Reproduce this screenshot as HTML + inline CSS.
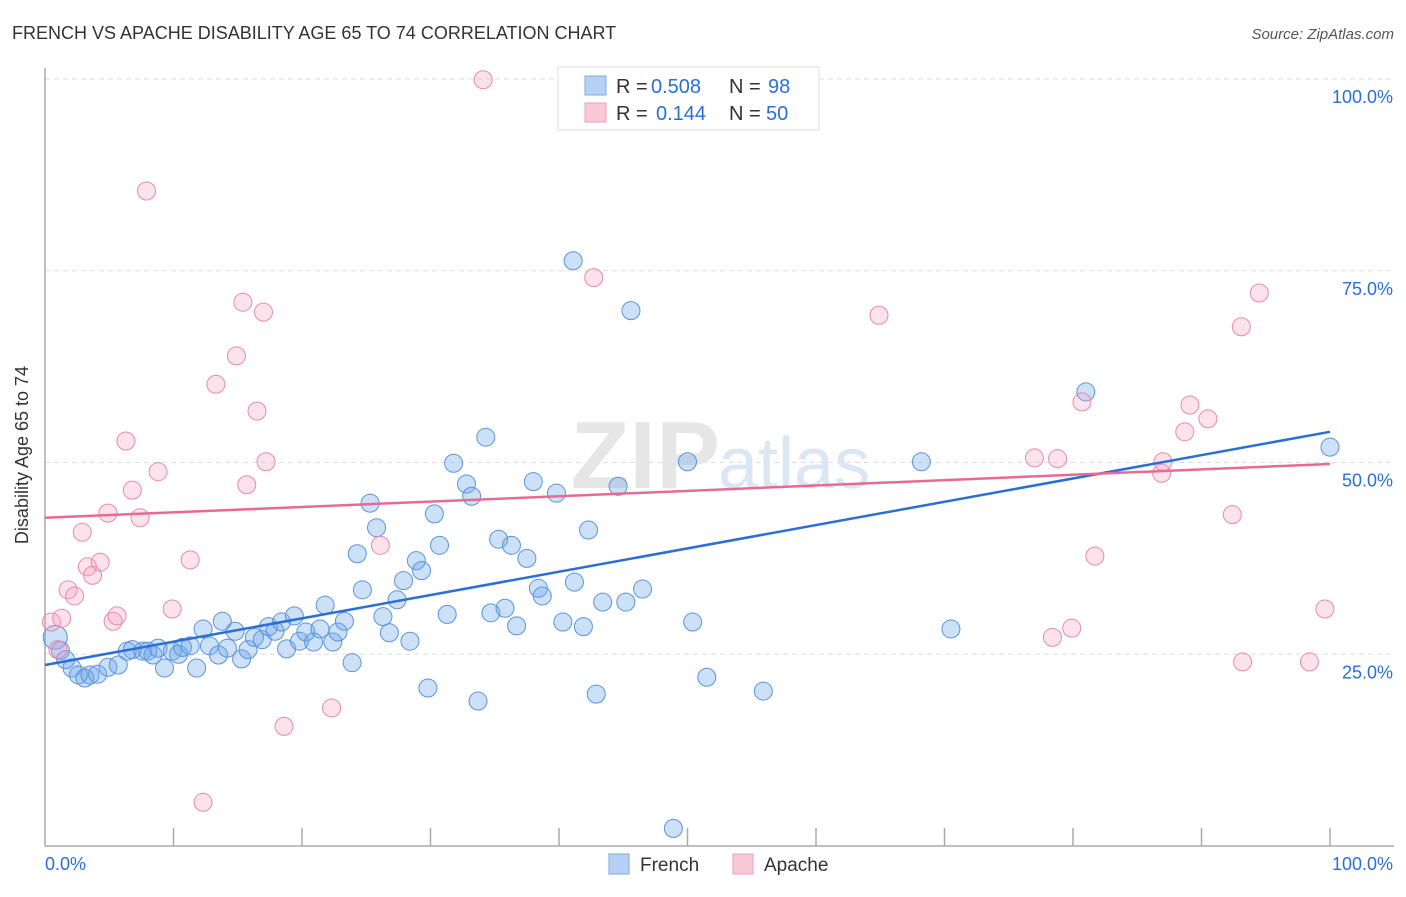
<!DOCTYPE html>
<html><head><meta charset="utf-8"><style>
body{margin:0;background:#fff;font-family:"Liberation Sans",sans-serif}
svg text{font-family:"Liberation Sans",sans-serif}
</style></head><body>
<svg id="chart" width="1406" height="892" xmlns="http://www.w3.org/2000/svg">
<text x="12" y="39" font-size="18" fill="#333">FRENCH VS APACHE DISABILITY AGE 65 TO 74 CORRELATION CHART</text>
<text x="1394" y="39" font-size="15" fill="#555" text-anchor="end" font-style="italic">Source: ZipAtlas.com</text>
<g id="grid"></g>
<text x="720" y="488" font-size="96" fill="#e6e6e6" text-anchor="end" font-family="Liberation Serif" font-weight="bold">ZIP</text>
<text x="718" y="488" font-size="72" fill="#dbe6f5">atlas</text>
<g id="axes"></g>
<g id="pts"></g>
<g id="lines"></g>
<text x="28" y="455" font-size="18" fill="#333" text-anchor="middle" transform="rotate(-90 28 455)">Disability Age 65 to 74</text>
<g>
<rect x="558" y="67" width="261" height="63" fill="#fff" stroke="#ddd"/>
<rect x="585" y="76" width="21" height="19" fill="#b6d1f3" stroke="#7fa9e0"/>
<rect x="585" y="103" width="21" height="19" fill="#f9c8d7" stroke="#eba0b8"/>
<text x="616" y="93" font-size="20" fill="#333">R =</text>
<text x="651" y="93" font-size="20" fill="#2a6fd6">0.508</text>
<text x="729" y="93" font-size="20" fill="#333">N =</text>
<text x="768" y="93" font-size="20" fill="#2a6fd6">98</text>
<text x="616" y="120" font-size="20" fill="#333">R =</text>
<text x="656" y="120" font-size="20" fill="#2a6fd6">0.144</text>
<text x="729" y="120" font-size="20" fill="#333">N =</text>
<text x="766" y="120" font-size="20" fill="#2a6fd6">50</text>
</g>
<g>
<rect x="609" y="854" width="20" height="20" fill="#b6d1f3" stroke="#7fa9e0"/>
<text x="640" y="871" font-size="19" fill="#333">French</text>
<rect x="733" y="854" width="20" height="20" fill="#f9c8d7" stroke="#eba0b8"/>
<text x="764" y="871" font-size="19" fill="#333">Apache</text>
</g>
</svg>
<script>
const yTicks=[25,50,75,100];
const yTickLabels=["25.0%","50.0%","75.0%","100.0%"];
const xTicks=[10,20,30,40,50,60,70,80,90,100];
const frenchX=[0.8,1.2,1.6,2.1,2.6,3.1,3.5,4.1,4.9,5.7,6.4,6.8,7.6,8.0,8.4,8.8,9.3,9.9,10.4,10.7,11.3,11.8,12.3,12.8,13.5,13.8,14.2,14.8,15.3,15.8,16.3,16.9,17.4,17.9,18.4,18.8,19.4,19.8,20.3,20.9,21.4,21.8,22.4,22.8,23.3,23.9,24.3,24.7,25.3,25.8,26.3,26.8,27.4,27.9,28.4,28.9,29.3,29.8,30.3,30.7,31.3,31.8,32.8,33.2,33.7,34.3,34.7,35.3,35.8,36.3,36.7,37.5,38.0,38.4,38.7,39.8,40.3,41.1,41.2,41.9,42.3,42.9,43.4,44.6,45.2,45.6,46.5,48.9,50.0,50.4,51.5,55.9,68.2,70.5,81.0,100];
const frenchY=[27.2,25.5,24.3,23.2,22.3,21.9,22.3,22.4,23.3,23.6,25.4,25.6,25.4,25.4,24.9,25.8,23.2,25.4,25.0,25.9,26.1,23.2,28.3,26.1,24.9,29.3,25.8,28.0,24.4,25.6,27.2,26.9,28.6,28.0,29.2,25.7,30.0,26.7,27.9,26.6,28.3,31.4,26.6,27.9,29.3,23.9,38.1,33.4,44.7,41.5,29.9,27.8,32.1,34.6,26.7,37.2,35.9,20.6,43.3,39.2,30.2,49.9,47.2,45.6,18.9,53.3,30.4,40.0,31.0,39.2,28.7,37.5,47.5,33.6,32.6,46.0,29.2,76.3,34.4,28.6,41.2,19.8,31.8,46.9,31.8,69.8,33.5,2.3,50.1,29.2,22.0,20.2,50.1,28.3,59.2,52.0];
const apacheX=[0.5,1.0,1.3,1.8,2.3,2.9,3.3,3.7,4.3,4.9,5.3,5.6,6.3,6.8,7.4,7.9,8.8,9.9,11.3,12.3,13.3,14.9,15.4,15.7,16.5,17.0,17.2,18.6,22.3,26.1,34.1,42.7,64.9,77.0,78.4,78.8,79.9,80.7,81.7,86.9,87.0,88.7,89.1,90.5,92.4,93.1,93.2,94.5,98.4,99.6];
const apacheY=[29.2,25.6,29.7,33.4,32.6,40.9,36.4,35.3,37.0,43.4,29.3,30.0,52.8,46.4,42.8,85.4,48.8,30.9,37.3,5.7,60.2,63.9,70.9,47.1,56.7,69.6,50.1,15.6,18.0,39.2,99.9,74.1,69.2,50.6,27.2,50.5,28.4,57.9,37.8,48.6,50.1,54.0,57.5,55.7,43.2,67.7,24.0,72.1,24.0,30.9];
const frenchTrend=[23.6,54.0];
const apacheTrend=[42.8,49.8];
const NS="http://www.w3.org/2000/svg";
const X=v=>45+v/100*1285, Y=v=>846-v/100*767;
function mk(tag,at,parent){const e=document.createElementNS(NS,tag);for(const k in at)e.setAttribute(k,at[k]);document.getElementById(parent).appendChild(e);return e;}
yTicks.forEach((t,i)=>{
 const l=mk('line',{x1:45,x2:1394,y1:Y(t),y2:Y(t),stroke:'#ddd','stroke-dasharray':'5,4'},'grid');
 
 
 const tx=mk('text',{x:1393,y:Y(t)+24,'font-size':18,fill:'#2a6fd6','text-anchor':'end'},'grid');
 tx.textContent=yTickLabels[i];
 
 
});
let a=mk('line',{x1:45,x2:45,y1:68,y2:846,stroke:'#aaa','stroke-width':1.5},'axes');


a=mk('line',{x1:45,x2:1394,y1:846,y2:846,stroke:'#aaa','stroke-width':1.5},'axes');


xTicks.forEach(t=>{const l=mk('line',{x1:X(t),x2:X(t),y1:828,y2:846,stroke:'#aaa','stroke-width':1.5},'axes');
 
 });
let t0=mk('text',{x:45,y:870,'font-size':18,fill:'#2a6fd6'},'axes');t0.textContent='0.0%';


let t1=mk('text',{x:1393,y:870,'font-size':18,fill:'#2a6fd6','text-anchor':'end'},'axes');t1.textContent='100.0%';


frenchX.forEach((v,i)=>{const c=mk('circle',{cx:X(v),cy:Y(frenchY[i]),r:i==0?12:9,fill:'rgba(110,165,235,0.35)',stroke:'#5b93dc','stroke-width':1},'pts');
 
 });
apacheX.forEach((v,i)=>{const c=mk('circle',{cx:X(v),cy:Y(apacheY[i]),r:9,fill:'rgba(245,160,190,0.3)',stroke:'#e88aa8','stroke-width':1},'pts');
 
 });
let l1=mk('line',{x1:X(0),y1:Y(frenchTrend[0]),x2:X(100),y2:Y(frenchTrend[1]),stroke:'#2a6fd6','stroke-width':2.5},'lines');


let l2=mk('line',{x1:X(0),y1:Y(apacheTrend[0]),x2:X(100),y2:Y(apacheTrend[1]),stroke:'#e86a94','stroke-width':2.5},'lines');


</script>
</body></html>
